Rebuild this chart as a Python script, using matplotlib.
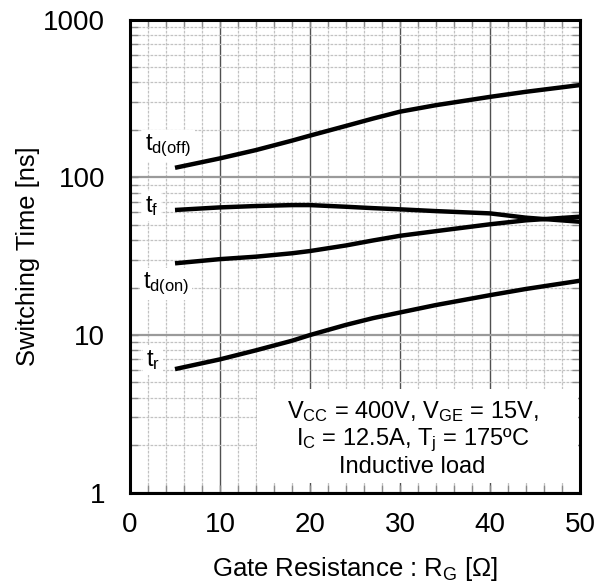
import matplotlib
matplotlib.use("Agg")
import matplotlib.pyplot as plt
from matplotlib.ticker import FixedLocator, NullFormatter, MultipleLocator, LogLocator
from matplotlib.patches import Rectangle

plt.rcParams["font.family"] = ["Liberation Sans", "DejaVu Sans"]
plt.rcParams["mathtext.fontset"] = "custom"
plt.rcParams["mathtext.rm"] = "Liberation Sans"
plt.rcParams["mathtext.it"] = "Liberation Sans"

# Data (gate resistance in ohm, times in ns)
rg = [5, 10, 14, 18, 20, 24, 27, 30, 34, 40, 44, 50]
td_off = [115, 132, 149, 171, 184, 212, 236, 261, 287, 324, 349, 385]
t_f = [62.1, 64.5, 65.8, 66.7, 66.7, 65.1, 63.8, 62.7, 61.1, 59.1, 55.5, 52.3]
td_on = [28.5, 30.3, 31.4, 33.0, 34.1, 37.0, 39.8, 42.6, 45.6, 50.4, 53.4, 56.3]
t_r = [6.08, 7.01, 8.0, 9.2, 10.0, 11.6, 12.8, 13.9, 15.5, 17.9, 19.6, 22.1]

curve_labels = [r"t$_{\mathrm{d(off)}}$", r"t$_{\mathrm{f}}$",
                r"t$_{\mathrm{d(on)}}$", r"t$_{\mathrm{r}}$"]
label_x = [1.7, 1.65, 1.4, 1.75]
label_y = [149, 60.5, 19.8, 6.36]

cond_lines = [
    r"V$_{\mathrm{CC}}$ = 400V, V$_{\mathrm{GE}}$ = 15V,",
    r"I$_{\mathrm{C}}$ = 12.5A, T$_{\mathrm{j}}$ = 175ºC",
    "Inductive load",
]
cond_y = [2.98, 2.01, 1.33]

fig = plt.figure(figsize=(6.03, 5.87), dpi=100)
ax = fig.add_axes([130 / 603, 1 - 492.7 / 587, 450 / 603, 473 / 587])

for ys in (td_off, t_f, td_on, t_r):
    ax.plot(rg, ys, color="black", linewidth=3.2, solid_capstyle="butt",
            solid_joinstyle="round", zorder=4)

ax.set_yscale("log")
ax.set_xlim(0, 50)
ax.set_ylim(1, 1000)

ax.xaxis.set_major_locator(MultipleLocator(10))
ax.xaxis.set_minor_locator(MultipleLocator(2))
ax.yaxis.set_major_locator(FixedLocator([1, 10, 100, 1000]))
ax.yaxis.set_minor_locator(LogLocator(base=10, subs=range(2, 10)))
ax.yaxis.set_minor_formatter(NullFormatter())
ax.set_yticklabels(["1", "10", "100", "1000"])

ax.grid(True, which="minor", color="#c2c2c2", linestyle=(0, (2.2, 1)), linewidth=0.9)
ax.xaxis.grid(True, which="major", color="#505050", linestyle="-", linewidth=1.0)
ax.yaxis.grid(True, which="major", color="#9a9a9a", linestyle="-", linewidth=1.6)

ax.tick_params(which="both", direction="in", top=True, right=True,
               length=6, width=1, color="#8a8a8a", labelsize=20)
ax.tick_params(axis="x", which="major", pad=14)
ax.tick_params(axis="y", which="major", pad=18)
for s in ax.spines.values():
    s.set_linewidth(2.2)

ax.set_xlabel(r"Gate Resistance : R$_{\mathrm{G}}$ [Ω]", fontsize=18.5, labelpad=12)
ax.set_ylabel("Switching Time [ns]", fontsize=18.4, labelpad=2)

# white area behind the conditions text
ax.add_patch(Rectangle((0.282, 0.02), 0.714, 0.2, transform=ax.transAxes,
                       facecolor="white", edgecolor="none", zorder=3))
for line, y in zip(cond_lines, cond_y):
    ax.text(31.4, y, line, ha="center", va="baseline", fontsize=17, zorder=5)

for lab, x, y in zip(curve_labels, label_x, label_y):
    ax.text(x, y, lab, fontsize=17, ha="left", va="baseline", zorder=3.5,
            bbox=dict(facecolor="white", edgecolor="none", pad=2))

fig.savefig("out.png", dpi=100)
